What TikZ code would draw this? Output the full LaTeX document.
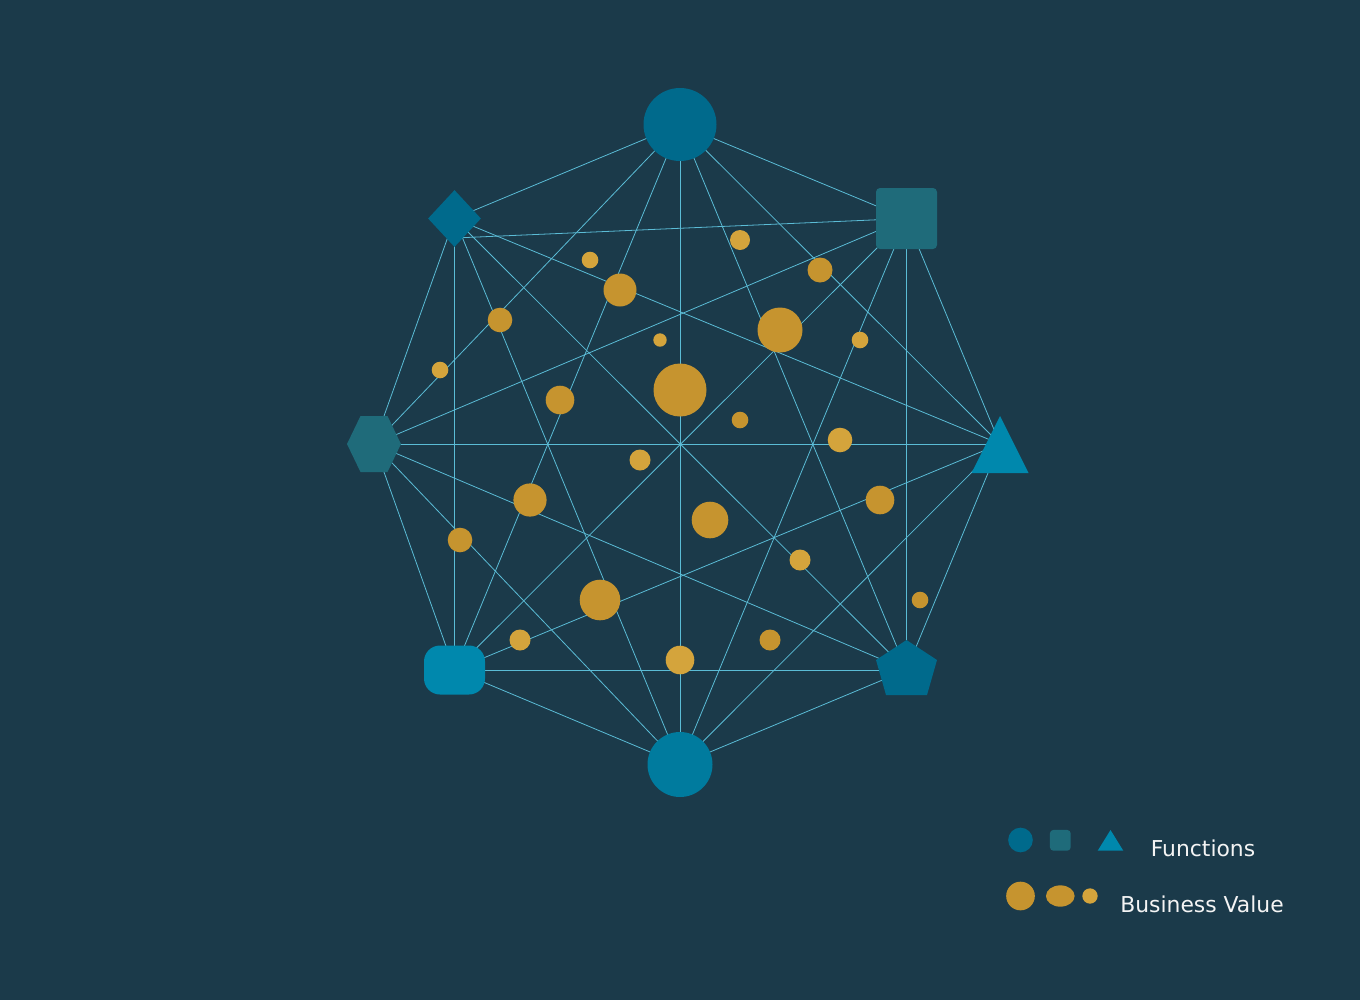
\documentclass[tikz,border=0pt]{standalone}
\usepackage{fontspec}
\setmainfont{DejaVu Sans}
\usetikzlibrary{shapes.geometric}
\definecolor{bg}{HTML}{1B3A4A}
\definecolor{fnA}{HTML}{006A8C}
\definecolor{fnB}{HTML}{1F6B7A}
\definecolor{fnC}{HTML}{0088AD}
\definecolor{fnD}{HTML}{007B9E}
\definecolor{goldD}{HTML}{C6942F}
\definecolor{goldL}{HTML}{D4A43C}
\definecolor{ln}{HTML}{5BBCD6}
\definecolor{txt}{HTML}{F4F4F4}
\begin{document}
\begin{tikzpicture}[x=0.75pt,y=-0.75pt,
  edge/.style={draw=ln, line width=0.6pt},
  bv/.style={circle, inner sep=0pt, draw=none},
  fnshape/.style={inner sep=0pt, draw=none},
  lbl/.style={text=txt, anchor=base, font=\fontsize{16.4pt}{19pt}\selectfont, inner sep=0pt}]
\fill[bg] (0,0) rectangle (1360,1000);
\useasboundingbox (0,0) rectangle (1360,1000);
% positions of the function nodes
\coordinate (T) at (680,124.5);
\coordinate (D) at (454.5,218.5);
\coordinate (Dl) at (454.5,238);
\coordinate (S) at (906.5,218.5);
\coordinate (H) at (374,444);
\coordinate (R) at (1000,444);
\coordinate (L) at (454.5,670);
\coordinate (P) at (906.5,670);
\coordinate (B) at (680,764.5);
% connectors
\foreach \a/\b in {T/D,T/S,T/H,T/R,T/L,T/P,T/B,
  Dl/S,D/H,D/R,D/L,D/P,D/B,
  S/H,S/R,S/L,S/P,S/B,
  H/R,H/L,H/P,H/B,
  R/L,R/P,R/B,
  L/P,L/B,
  P/B}
  \draw[edge] (\a) -- (\b);
% function shapes
\node[fnshape, circle, fill=fnA, minimum size=54.75pt] (Tshape) at (T) {};
\node[fnshape, circle, fill=fnD, minimum size=48.75pt] (Bshape) at (B) {};
\node[fnshape, diamond, fill=fnA, minimum width=39.75pt, minimum height=42.75pt] (Dshape) at (D) {};
\node[fnshape, rectangle, rounded corners=3pt, fill=fnB, minimum width=45.75pt, minimum height=45.75pt] (Sshape) at (S) {};
\node[fnshape, rectangle, rounded corners=12pt, fill=fnC, minimum width=45.75pt, minimum height=36.75pt] (Lshape) at (L) {};
\fill[fnB, shift={(H)}] (-27,0) -- (-13.5,-28) -- (13.5,-28) -- (27,0) -- (13.5,28) -- (-13.5,28) -- cycle;
\fill[fnC, shift={(R)}] (0,-28) -- (28.5,29) -- (-28.5,29) -- cycle;
\fill[fnA, shift={(P)}] (0,-30) -- (30.5,-10) -- (20.5,25) -- (-20.5,25) -- (-30.5,-10) -- cycle;
% business value circles (x/y/radius px/colour)
\foreach \x/\y/\r/\c [count=\i] in {
  740/240/10/goldL, 590/260/8.3/goldL, 620/290/16.5/goldD, 820/270/12.5/goldD,
  500/320/12.3/goldD, 780/330/22.5/goldD, 860/340/8.3/goldL, 660/340/6.7/goldL,
  440/370/8.3/goldL, 680/390/26.5/goldD, 560/400/14.3/goldD, 740/420/8.3/goldD,
  840/440/12.3/goldL, 640/460/10.5/goldL, 530/500/16.6/goldD, 880/500/14.3/goldD,
  710/520/18.3/goldD, 460/540/12.3/goldD, 800/560/10.5/goldL, 600/600/20.3/goldD,
  920/600/8.3/goldD, 520/640/10.5/goldL, 770/640/10.5/goldD, 680/660/14.3/goldL}
  \node[bv, fill=\c, minimum size={1.5pt*\r}] (bv\i) at (\x,\y) {};
% legend
\node[fnshape, circle, fill=fnA, minimum size=18.5pt] (lgA) at (1020.5,840) {};
\node[fnshape, rectangle, rounded corners=2.5pt, fill=fnB, minimum width=15.5pt, minimum height=15.5pt] (lgB) at (1060.3,840.3) {};
\coordinate (lgC) at (1110.5,840.3);
\fill[fnC, shift={(lgC)}] (0,-10.3) -- (12.8,10.4) -- (-12.8,10.4) -- cycle;
\node[lbl] (fnlabel) at (1203,856.7) {Functions};
\node[fnshape, circle, fill=goldD, minimum size=21.5pt] (lgD) at (1020.5,896) {};
\node[fnshape, ellipse, fill=goldD, minimum width=21.5pt, minimum height=16pt] (lgE) at (1060.3,896) {};
\node[fnshape, circle, fill=goldL, minimum size=11.5pt] (lgF) at (1090,896) {};
\node[lbl] (bvlabel) at (1202,912) {Business Value};
\end{tikzpicture}
\end{document}
